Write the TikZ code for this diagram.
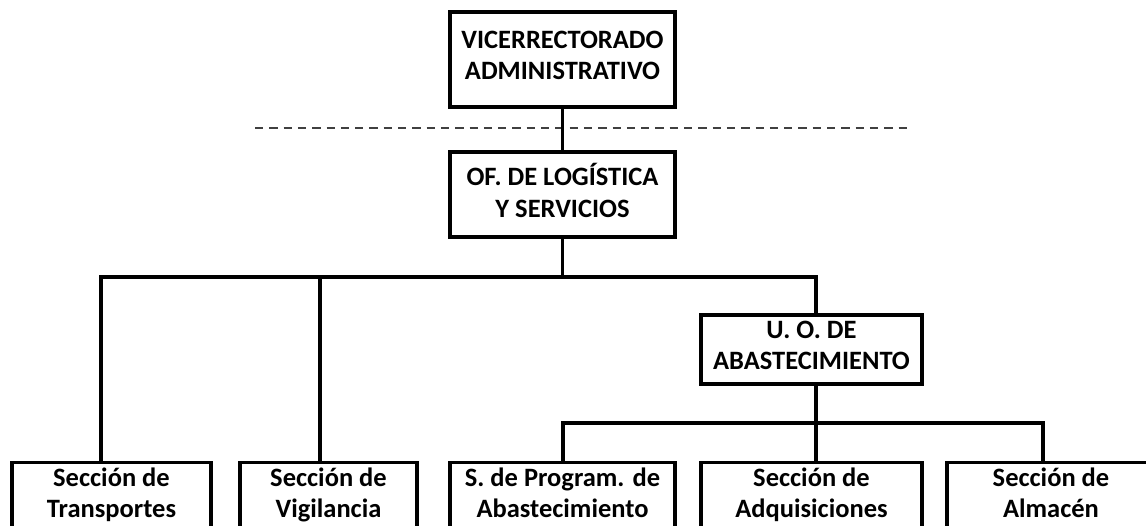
\documentclass[tikz,border=0pt]{standalone}
\usepackage{fontspec}
\setmainfont{Carlito}
\newcommand{\toprule}{\rule{0pt}{26pt}}
\newcommand{\botrule}{\rule[-8pt]{0pt}{8pt}}
\begin{document}
\begin{tikzpicture}[x=1pt,y=-1pt,
  box/.style={draw, line width=3.2pt, inner sep=0pt, align=center,
    font=\bfseries\fontsize{26.5}{31.5}\selectfont,
    execute at begin node=\toprule, execute at end node=\botrule},
  conn/.style={line width=3.2pt},
  sepline/.style={draw=black!75, line width=2.2pt, dash pattern=on 8.3pt off 6pt}]
\useasboundingbox (0,0) rectangle (1146,526);
\clip (0,0) rectangle (1146,526);

\node[box, minimum width=225, minimum height=95] (vra) at (562.5,59.5) {VICERRECTORADO\\ADMINISTRATIVO};
\node[box, minimum width=225, minimum height=85] (ofl) at (562.5,194.5) {OF. DE LOGÍSTICA\\Y SERVICIOS};
\node[box, minimum width=221, minimum height=69] (uo) at (811.5,349.5) {U. O. DE\\ABASTECIMIENTO};

\node[box, anchor=north, minimum width=199, minimum height=68] (tra) at (111.5,461) {Sección de\\Transportes};
\node[box, anchor=north, minimum width=177, minimum height=68] (vig) at (328.5,461) {Sección de\\Vigilancia};
\node[box, anchor=north, minimum width=225, minimum height=68] (prg) at (562.5,461) {S. de Program. de\\Abastecimiento};
\node[box, anchor=north, minimum width=221, minimum height=68] (adq) at (811.5,461) {Sección de\\Adquisiciones};
\node[box, anchor=north, minimum width=208, minimum height=68] (alm) at (1051,461) {Sección de\\Almacén};

\coordinate (b1) at (101,277);
\coordinate (b2) at (320,277);
\coordinate (b3) at (816,277);
\coordinate (c1) at (563,423);
\coordinate (c3) at (1043,423);
\coordinate (d1) at (255,128);
\coordinate (d2) at (907,128);

\draw[sepline] (d1) -- (d2);
\draw[conn] (vra.south) -- (ofl.north);
\draw[conn] (ofl.south) -- (ofl.south |- b1);
\draw[conn] (tra.north -| b1) -- (b1) -- (b3) -- (uo.north -| b3);
\draw[conn] (vig.north -| b2) -- (b2);
\draw[conn] (uo.south -| b3) -- (adq.north -| b3);
\draw[conn] (prg.north -| c1) -- (c1) -- (c3) -- (alm.north -| c3);
\end{tikzpicture}
\end{document}
